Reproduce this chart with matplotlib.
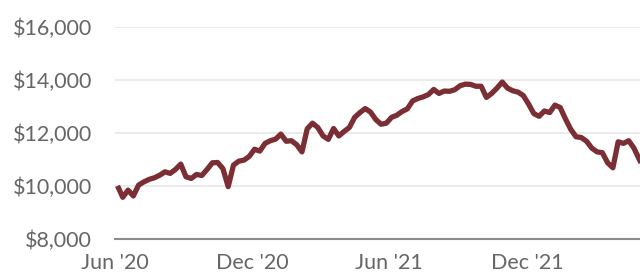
import matplotlib
matplotlib.use("Agg")
import matplotlib.pyplot as plt
import matplotlib.ticker as mticker
import pandas as pd

# weekly value of a $10,000 investment
start_date = "2020-06-05"
values = [
    10000, 9570, 9840, 9620, 10030, 10150, 10245, 10305, 10400, 10530,
    10470, 10620, 10820, 10340, 10280, 10430, 10390, 10620, 10870, 10880,
    10650, 9970, 10780, 10930, 10970, 11110, 11380, 11310, 11600, 11700,
    11760, 11950, 11680, 11700, 11550, 11280, 12150, 12360, 12200, 11880,
    11750, 12160, 11880, 12050, 12200, 12580, 12760, 12910, 12780, 12500,
    12320, 12360, 12580, 12660, 12800, 12900, 13200, 13290, 13350, 13440,
    13630, 13480, 13570, 13560, 13620, 13770, 13830, 13820, 13750, 13750,
    13330, 13480, 13680, 13910, 13680, 13580, 13530, 13400, 13080, 12720,
    12620, 12820, 12760, 13040, 12950, 12520, 12130, 11850, 11820, 11680,
    11420, 11280, 11250, 10870, 10680, 11660, 11600, 11700, 11420, 11000,
    10600,
]
tick_dates = ["2020-06-01", "2020-12-01", "2021-06-01", "2021-12-01"]
tick_labels = ["Jun '20", "Dec '20", "Jun '21", "Dec '21"]
y_ticks = [8000, 10000, 12000, 14000, 16000]

dates = pd.date_range(start_date, periods=len(values), freq="7D")

plt.rcParams["font.family"] = ["Lato", "DejaVu Sans"]
text_color = "#666666"

fig = plt.figure(figsize=(6.4, 2.75), dpi=100)
ax = fig.add_axes([114.5 / 640, 36 / 275, (640 - 114.5) / 640, 212.5 / 275])

ax.plot(dates, values, color="#7c2e35", linewidth=3.8, solid_joinstyle="round",
        solid_capstyle="butt", zorder=3)

ax.set_xlim(pd.Timestamp("2020-06-01"), pd.Timestamp("2022-04-30"))
ax.set_ylim(8000, 16000)
ax.set_yticks(y_ticks)
ax.yaxis.set_major_formatter(mticker.FuncFormatter(lambda v, p: f"${v:,.0f}"))
ax.set_xticks(pd.to_datetime(tick_dates))
ax.set_xticklabels(tick_labels)

ax.grid(axis="y", color="#ebebeb", linewidth=1.5, zorder=0)
ax.grid(axis="x", visible=False)
for side in ["top", "right", "left"]:
    ax.spines[side].set_visible(False)
ax.spines["bottom"].set_color("#8c8c8c")
ax.spines["bottom"].set_linewidth(1.5)
ax.spines["bottom"].set_zorder(4)

ax.tick_params(axis="y", length=0, pad=16, labelsize=15.5, labelcolor=text_color)
ax.tick_params(axis="x", length=0, pad=10, labelsize=15.5, labelcolor=text_color)

fig.savefig("out.png", dpi=100)
